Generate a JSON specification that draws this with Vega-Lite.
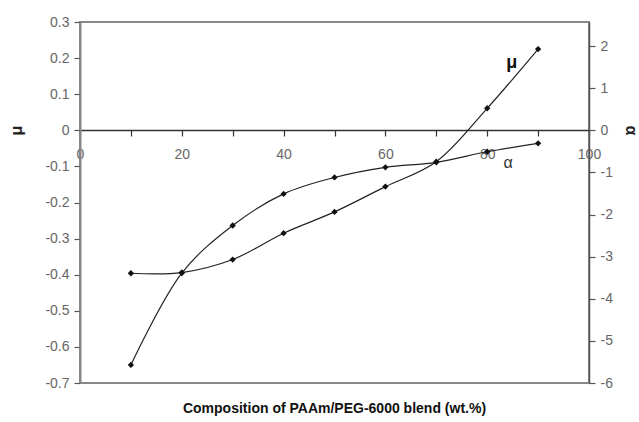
{
  "$schema": "https://vega.github.io/schema/vega-lite/v6.json",
  "width": 509,
  "height": 361,
  "autosize": {"type": "none"},
  "padding": {"left": 80, "top": 22, "right": 50, "bottom": 39},
  "background": "white",
  "data": {"values": [
    {"x": 10, "mu": -0.396, "alpha": -5.57},
    {"x": 20, "mu": -0.394, "alpha": -3.39},
    {"x": 30, "mu": -0.358, "alpha": -2.26},
    {"x": 40, "mu": -0.285, "alpha": -1.51},
    {"x": 50, "mu": -0.226, "alpha": -1.12},
    {"x": 60, "mu": -0.156, "alpha": -0.88},
    {"x": 70, "mu": -0.087, "alpha": -0.76},
    {"x": 80, "mu": 0.061, "alpha": -0.51},
    {"x": 90, "mu": 0.225, "alpha": -0.31}
  ]},
  "encoding": {
    "x": {
      "field": "x", "type": "quantitative",
      "scale": {"domain": [0, 100], "nice": false, "zero": false},
      "axis": {
        "orient": "bottom", "offset": -253, "title": null,
        "values": [0, 10, 20, 30, 40, 50, 60, 70, 80, 90, 100],
        "labelExpr": "datum.value % 20 == 0 ? datum.label : ''",
        "grid": false, "domainColor": "#333", "domainWidth": 1.5,
        "tickColor": "#333", "tickWidth": 1.2, "tickSize": 6,
        "labelPadding": 11, "labelFont": "Liberation Sans", "labelFontSize": 14,
        "labelColor": "#666", "labelFlush": false, "labelOverlap": false
      }
    }
  },
  "layer": [
    {
      "encoding": {
        "y": {
          "field": "mu", "type": "quantitative",
          "scale": {"domain": [-0.7, 0.3], "nice": false, "zero": false},
          "axis": {
            "orient": "left", "title": "μ",
            "values": [-0.7, -0.6, -0.5, -0.4, -0.3, -0.2, -0.1, 0, 0.1, 0.2, 0.3],
            "labelExpr": "replace(format(datum.value, '.1~f'), '−', '-')",
            "grid": false, "domainColor": "#888", "domainWidth": 2,
            "tickColor": "#555", "tickWidth": 1.2, "tickSize": 6, "labelPadding": 5,
            "labelFont": "Liberation Sans", "labelFontSize": 14, "labelColor": "#666",
            "labelFlush": false, "labelOverlap": false,
            "titleFont": "Liberation Sans", "titleFontSize": 16, "titleFontWeight": "bold",
            "titleColor": "#222", "titlePadding": 20, "titleY": 108
          }
        }
      },
      "layer": [
        {"mark": {"type": "line", "interpolate": "catmull-rom", "color": "#222", "strokeWidth": 1.2}},
        {"mark": {"type": "point", "shape": "diamond", "filled": true, "color": "#111", "size": 40, "opacity": 1}},
        {
          "data": {"values": [{"x": 84.8, "mu": 0.186, "label": "μ"}]},
          "mark": {"type": "text", "font": "Liberation Sans", "fontSize": 18, "fontWeight": "bold", "color": "#111", "align": "center", "baseline": "middle"},
          "encoding": {"text": {"field": "label"}}
        },
        {
          "data": {"values": [{"x": 84.1, "mu": -0.091, "label": "α"}]},
          "mark": {"type": "text", "font": "Liberation Sans", "fontSize": 16, "color": "#333", "align": "center", "baseline": "middle"},
          "encoding": {"text": {"field": "label"}}
        }
      ]
    },
    {
      "encoding": {
        "y": {
          "field": "alpha", "type": "quantitative",
          "scale": {"domain": [-6, 2.571], "nice": false, "zero": false},
          "axis": {
            "orient": "right", "title": "α",
            "values": [-6, -5, -4, -3, -2, -1, 0, 1, 2],
            "labelExpr": "replace(format(datum.value, 'd'), '−', '-')",
            "grid": false, "domainColor": "#555", "domainWidth": 1.5,
            "tickColor": "#555", "tickWidth": 1.2, "tickSize": 6, "labelPadding": 5,
            "labelFont": "Liberation Sans", "labelFontSize": 14, "labelColor": "#666",
            "labelFlush": false, "labelOverlap": false,
            "titleFont": "Liberation Sans", "titleFontSize": 16, "titleFontWeight": "bold",
            "titleColor": "#222", "titlePadding": 10, "titleY": 108
          }
        }
      },
      "layer": [
        {"mark": {"type": "line", "interpolate": "catmull-rom", "color": "#222", "strokeWidth": 1.2}},
        {"mark": {"type": "point", "shape": "diamond", "filled": true, "color": "#111", "size": 40, "opacity": 1}}
      ]
    }
  ],
  "resolve": {"scale": {"y": "independent"}},
  "title": {
    "text": "Composition of PAAm/PEG-6000 blend (wt.%)",
    "orient": "bottom", "anchor": "middle", "frame": "group",
    "font": "Liberation Sans", "fontSize": 14, "fontWeight": "bold", "color": "#111",
    "offset": 12
  },
  "config": {"view": {"stroke": "#888", "strokeWidth": 2}}
}
